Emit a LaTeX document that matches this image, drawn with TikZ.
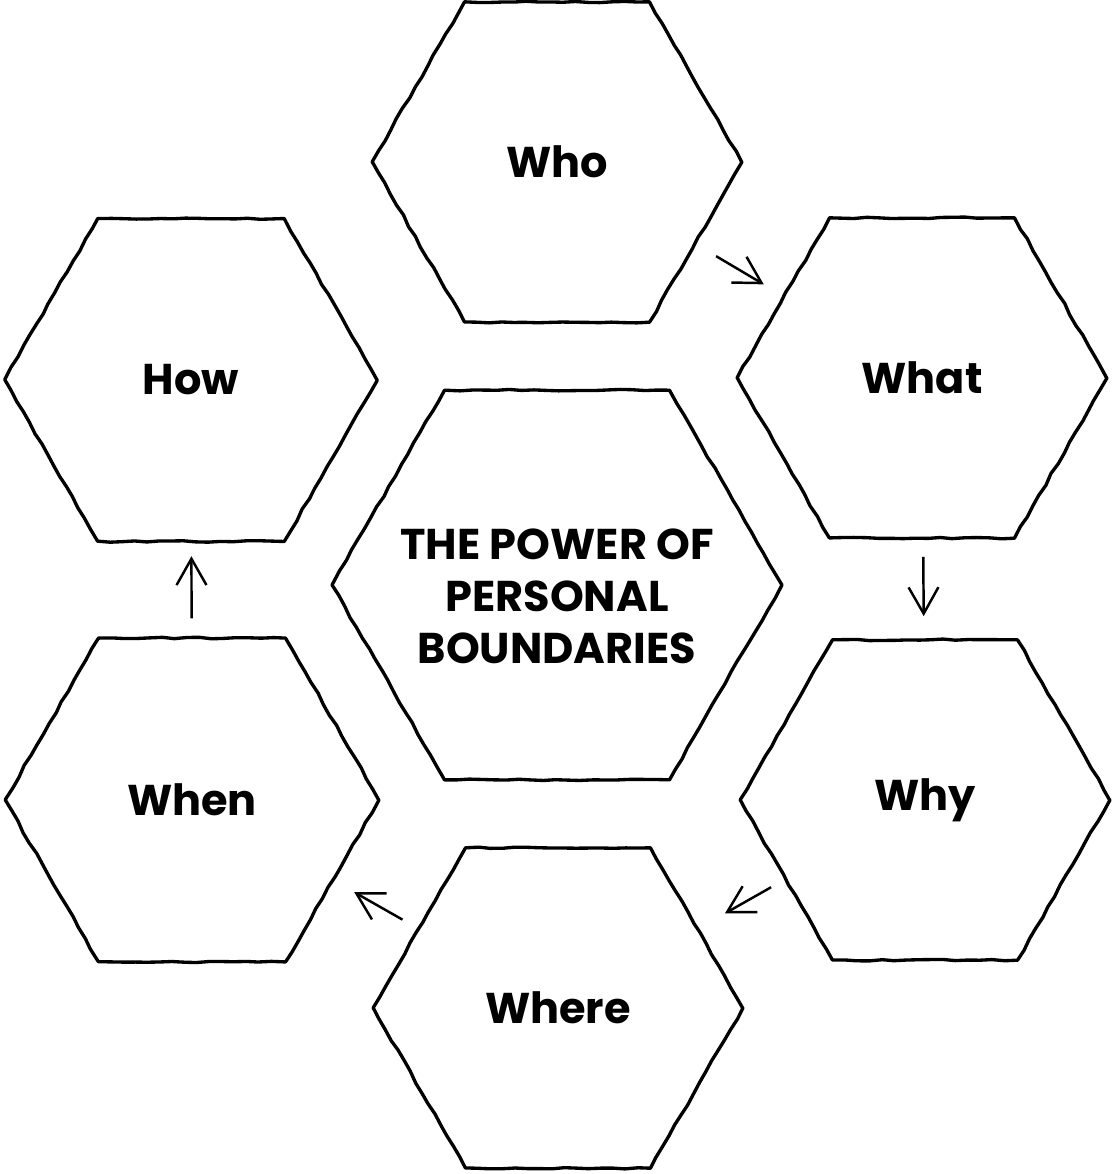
\documentclass[tikz,border=0pt]{standalone}
\usepackage{fontspec}
\setmainfont{Poppins}
\usetikzlibrary{positioning,shapes.geometric,arrows.meta,decorations.pathmorphing}

\begin{document}
\pgfmathsetseed{7}
\begin{tikzpicture}[x=0.02cm, y=-0.02cm,
    hex/.style = {regular polygon, regular polygon sides=6, draw, line width=1.9pt, line join=round,
        minimum size=7.4cm, inner sep=0pt, align=center,
        font=\bfseries\fontsize{24.5}{29.5}\selectfont,
        decorate, decoration={random steps, segment length=7pt, amplitude=0.45pt}},
    arr/.style = {-{Straight Barb[length=15pt,width=17pt]}, line width=1.4pt}]
    \useasboundingbox (0,0) rectangle (1113,1174);
    \node[hex] (who) at (557,162) {Who};
    \node[hex] (what) at (922,378) {What};
    \node[hex] (why) at (925,800) {Why};
    \node[hex] (where) at (558,1008) {Where};
    \node[hex, minimum size=7.48cm] (when) at (192,800) {When};
    \node[hex, minimum size=7.46cm] (how) at (191,380) {How};
    \node[hex, minimum size=9.0cm] (core) at (557,585)
        {\makebox[0pt]{\smash{\raisebox{-0.54cm}{\begin{tabular}{@{}c@{}}THE POWER OF\\PERSONAL\\BOUNDARIES\end{tabular}}}}};
    \path[arr] (who) edge[shorten <=0.46cm, shorten >=0.44cm] (what);
    \path[arr] (what) edge[shorten <=0.34cm, shorten >=0.44cm] (why);
    \path[arr] (why) edge[shorten <=0.3cm, shorten >=0.6cm] (where);
    \path[arr] (where) edge[shorten <=0.34cm, shorten >=0.46cm] (when);
    \path[arr] (when) edge[shorten <=0.36cm, shorten >=0.26cm] (how);
\end{tikzpicture}
\end{document}
